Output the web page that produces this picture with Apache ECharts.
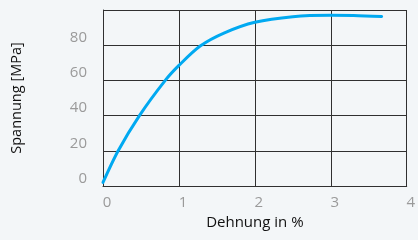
<!DOCTYPE html>
<html>
<head>
<meta charset="utf-8">
<script src="https://cdn.jsdelivr.net/npm/echarts@6/dist/echarts.min.js"></script>
<style>
    html, body { margin: 0; padding: 0; background: #f3f6f8; }
    #chart { width: 418px; height: 240px; }
</style>
</head>
<body>
<div id="chart"></div>
<script>
// Dehnung in % / Spannung in MPa
var strain = [0, 0.2, 0.48, 0.82, 1.0, 1.28, 1.6, 2.0, 2.5, 3.0, 3.3, 3.67];
var stress = [2, 20, 40, 60, 68.5, 79.5, 87, 93, 96.2, 97, 96.9, 96.3];
var xTicks = [0, 1, 2, 3, 4];
var yTicks = [0, 20, 40, 60, 80, 100];

var points = strain.map(function (x, i) { return [x, stress[i]]; });

var lineCol = '#303030';
var gridLine = { show: true, lineStyle: { color: lineCol, width: 1 } };

var chart = echarts.init(document.getElementById('chart'));
chart.setOption({
    backgroundColor: '#f3f6f8',
    animation: false,
    grid: { left: 103, right: 11, top: 10, bottom: 54 },
    xAxis: {
        type: 'value',
        min: xTicks[0],
        max: xTicks[xTicks.length - 1],
        interval: 1,
        name: 'Dehnung in %',
        nameLocation: 'middle',
        nameGap: 26,
        nameTextStyle: { color: '#111', fontSize: 15, fontFamily: 'Open Sans', verticalAlign: 'top' },
        axisLine: { show: true, lineStyle: { color: lineCol } },
        axisTick: { show: false },
        axisLabel: { color: '#9a9a9a', fontSize: 15, fontFamily: 'Open Sans', margin: 9, padding: [0, 0, 0, 8] },
        splitLine: gridLine
    },
    yAxis: {
        type: 'value',
        min: yTicks[0],
        max: yTicks[yTicks.length - 1],
        interval: 20,
        name: 'Spannung [MPa]',
        nameLocation: 'middle',
        nameGap: 79,
        nameTextStyle: { color: '#111', fontSize: 14.5, fontFamily: 'Open Sans' },
        axisLine: { show: true, lineStyle: { color: lineCol } },
        axisTick: { show: false },
        axisLabel: {
            color: '#9a9a9a', fontSize: 15, fontFamily: 'Open Sans', margin: 16,
            verticalAlign: 'bottom', showMaxLabel: false
        },
        splitLine: gridLine
    },
    series: [{
        type: 'line',
        data: points,
        smooth: 0.3,
        showSymbol: false,
        lineStyle: { color: '#00a9f1', width: 3, cap: 'round' }
    }]
});
</script>
</body>
</html>
